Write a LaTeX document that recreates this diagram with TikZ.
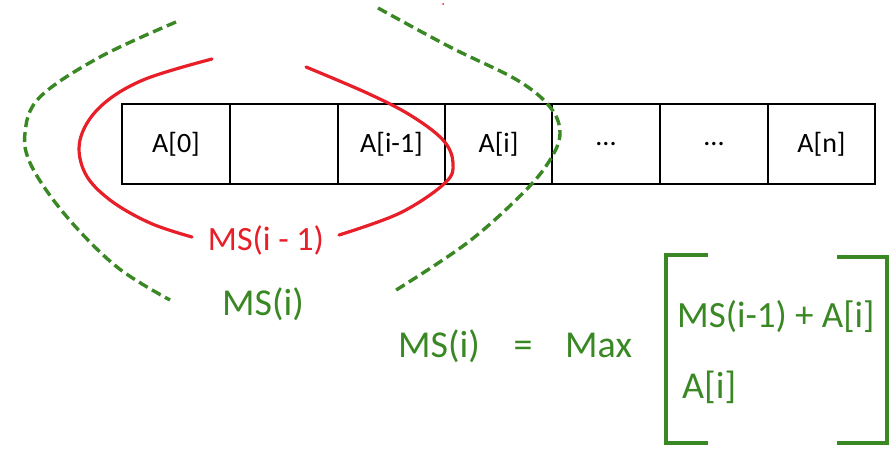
\documentclass[tikz,border=0pt]{standalone}
\usepackage{fontspec}
\setmainfont{Carlito}
\begin{document}
\begin{tikzpicture}[x=1pt,y=-1pt,
  cell/.style={draw=black,line width=2pt,minimum width=107.6pt,minimum height=80pt,inner sep=0pt,
    font=\fontsize{28}{32}\selectfont},
  redline/.style={draw={rgb,255:red,232;green,30;blue,40},line width=3.2pt,line cap=round},
  greendash/.style={draw=ogreen,line width=3.4pt,dash pattern=on 10pt off 5pt},
  gtext/.style={text=ogreen,font=\fontsize{38}{42}\selectfont,inner sep=0pt},
  bracket/.style={draw=ogreen,line width=4pt}]
\definecolor{ogreen}{RGB}{58,136,36}
\definecolor{ored}{RGB}{232,30,40}
\useasboundingbox (0,0) rectangle (896,451);

% array cells
\node[cell] (c0) at (176,144) {A[0]};
\node[cell] (c1) at (284,144) {};
\node[cell] (c2) at (391.5,144) {A[i-1]};
\node[cell] (c3) at (498.5,144) {A[i]};
\node[cell] (c4) at (606,144) {...};
\node[cell] (c5) at (714,144) {...};
\node[cell] (c6) at (821.5,144) {A[n]};

% MS(i-1) enclosure
\draw[redline] plot[smooth,tension=0.6] coordinates {(212,59) (143,80) (100,107) (80,140) (85,173) (110,200) (150,223) (192,237)};
\draw[redline] plot[smooth,tension=0.6] coordinates {(306,67) (367,93) (410,115) (443,140) (453,163) (445,183) (400,213) (339,235)};
\node[text=ored,font=\fontsize{34}{38}\selectfont,inner sep=0pt,anchor=base] (msprev) at (266,250) {MS(i - 1)};
\fill[ored] (443,4) circle (1pt);

% MS(i) enclosure
\draw[greendash] plot[smooth,tension=0.6] coordinates {(176,22) (100,57) (40,97) (25,133) (32,167) (67,217) (117,267) (170,300)};
\draw[greendash] plot[smooth,tension=0.6] coordinates {(378,8) (450,47) (517,80) (550,107) (560,133) (550,160) (523,193) (467,243) (393,292)};
\node[gtext,anchor=base west] (mscur) at (222,315) {MS(i)};

% recurrence
\node[gtext,anchor=base west] (lhs) at (398,357) {MS(i)};
\node[gtext,anchor=base] (eq) at (523,357) {=};
\node[gtext,anchor=base west] (mx) at (565,357) {Max};
\node[gtext,anchor=base west,font=\fontsize{37}{42}\selectfont] (opt1) at (677,327) {MS(i-1) + A[i]};
\node[gtext,anchor=base west] (opt2) at (682,398) {A[i]};
\draw[bracket] (708,255) -- (666,255) -- (666,443) -- (708,443);
\draw[bracket] (837,257) -- (887,257) -- (887,443) -- (837,443);
\end{tikzpicture}
\end{document}
